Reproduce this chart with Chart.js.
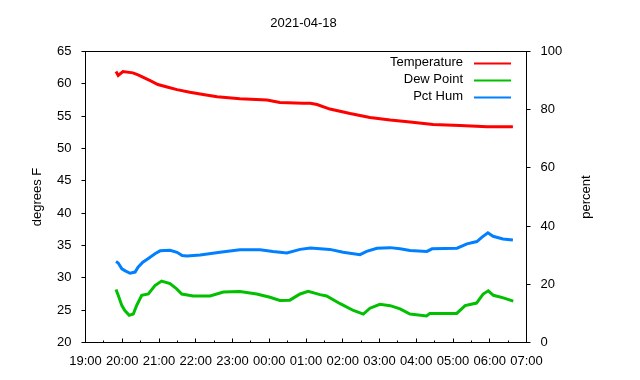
<!DOCTYPE html>
<html><head><meta charset="utf-8">
<script src="https://cdn.jsdelivr.net/npm/chart.js@4/dist/chart.umd.min.js"></script>
<style>html,body{margin:0;padding:0;background:#fff}canvas{display:block}</style>
</head><body>
<canvas id="c" width="640" height="380"></canvas>
<script>
const chartTitle = '2021-04-18';
const leftAxisTitle = 'degrees F';
const rightAxisTitle = 'percent';
const xTickLabels = ['19:00','20:00','21:00','22:00','23:00','00:00','01:00','02:00','03:00','04:00','05:00','06:00','07:00'];

// hours after 19:00
const tempHours  = [0.83,0.89,1.02,1.29,1.43,1.76,1.97,2.22,2.49,2.84,3.20,3.58,4.20,4.94,5.29,5.92,6.12,6.30,6.65,7.20,7.74,8.29,8.83,9.46,10.19,10.93,11.63];
const tempValues = [61.9,61.3,61.9,61.7,61.4,60.5,59.9,59.5,59.1,58.7,58.35,58.0,57.7,57.5,57.1,57.0,57.0,56.8,56.1,55.4,54.8,54.4,54.1,53.7,53.55,53.35,53.35];

const dewHours  = [0.83,0.89,0.99,1.07,1.19,1.30,1.39,1.53,1.71,1.89,2.07,2.30,2.48,2.62,2.93,3.39,3.75,4.20,4.66,5.02,5.29,5.56,5.84,6.06,6.38,6.56,6.93,7.29,7.56,7.74,8.01,8.29,8.56,8.83,9.28,9.37,10.10,10.33,10.64,10.82,10.96,11.10,11.37,11.64];
const dewValues = [28.2,27.3,25.7,24.95,24.2,24.4,25.7,27.3,27.5,28.8,29.5,29.1,28.3,27.5,27.2,27.2,27.8,27.9,27.5,27.0,26.5,26.55,27.5,27.9,27.4,27.2,26.0,24.95,24.4,25.3,25.9,25.7,25.2,24.4,24.1,24.5,24.5,25.7,26.1,27.5,28.0,27.3,26.9,26.4];

const humHours  = [0.83,0.89,0.99,1.07,1.21,1.35,1.43,1.56,1.70,1.89,2.03,2.30,2.49,2.63,2.76,3.12,3.66,4.20,4.75,5.10,5.48,5.84,6.12,6.65,7.01,7.47,7.65,7.93,8.29,8.56,8.83,9.29,9.43,10.11,10.38,10.65,10.79,10.95,11.09,11.36,11.63];
const humValues = [27.8,27.3,25.3,24.7,23.8,24.2,25.9,27.6,28.8,30.5,31.5,31.7,31.0,29.9,29.7,30.1,31.0,31.9,31.9,31.3,30.8,32.0,32.5,32.0,31.0,30.2,31.3,32.4,32.6,32.2,31.6,31.3,32.2,32.4,33.9,34.7,36.2,37.7,36.5,35.6,35.2];

const FONT = "'Liberation Sans', Arial, sans-serif";
const FS = 13;

function pts(xs, ys) { return xs.map((x, i) => ({x: x, y: ys[i]})); }

const decor = {
  id: 'decor',
  afterDraw(chart) {
    const ctx = chart.ctx, a = chart.chartArea, xs = chart.scales.x;
    ctx.save();
    ctx.strokeStyle = '#000'; ctx.lineWidth = 1;
    ctx.strokeRect(a.left, a.top, a.right - a.left, a.bottom - a.top);
    ctx.beginPath();
    for (let v = xs.min; v <= xs.max + 1e-9; v += 0.5) {
      const px = Math.floor(xs.getPixelForValue(v)) + 0.5;
      const len = Math.abs(v - Math.round(v)) < 1e-9 ? 4 : 2;
      ctx.moveTo(px, a.bottom); ctx.lineTo(px, a.bottom - len);
    }
    ctx.stroke();
    ctx.fillStyle = '#000';
    ctx.font = FS + 'px ' + FONT;
    ctx.textAlign = 'center'; ctx.textBaseline = 'middle';
    ctx.fillText(chartTitle, (a.left + a.right) / 2 - 2.5, 23);
    const cy = (a.top + a.bottom) / 2;
    [[leftAxisTitle, 37], [rightAxisTitle, 586]].forEach(([t, x]) => {
      ctx.save(); ctx.translate(x, cy); ctx.rotate(-Math.PI / 2);
      ctx.fillText(t, 0, 0); ctx.restore();
    });
    ctx.textAlign = 'right';
    chart.data.datasets.forEach((ds, i) => {
      const y = 62.5 + i * 17.2;
      ctx.fillStyle = '#000';
      ctx.fillText(ds.label, 463, y);
      ctx.strokeStyle = ds.borderColor; ctx.lineWidth = 2;
      ctx.beginPath(); ctx.moveTo(474, Math.round(y) + 0.5); ctx.lineTo(511, Math.round(y) + 0.5); ctx.stroke();
    });
    ctx.restore();
  }
};

new Chart(document.getElementById('c'), {
  type: 'line',
  data: {
    datasets: [
      {label: 'Temperature', data: pts(tempHours, tempValues), borderColor: '#ff0000', yAxisID: 'y'},
      {label: 'Dew Point', data: pts(dewHours, dewValues), borderColor: '#00c000', yAxisID: 'y'},
      {label: 'Pct Hum', data: pts(humHours, humValues), borderColor: '#0080ff', yAxisID: 'y2'}
    ].map(d => Object.assign(d, {borderWidth: 3, pointRadius: 0, tension: 0, fill: false}))
  },
  options: {
    responsive: false, animation: false, devicePixelRatio: 1,
    layout: {padding: {top: 51.5, left: 0, right: 0, bottom: 0}},
    plugins: {legend: {display: false}, title: {display: false}, tooltip: {enabled: false}},
    scales: {
      x: {
        type: 'linear', min: 0, max: 12,
        grid: {display: false, drawTicks: false}, border: {display: false},
        ticks: {stepSize: 1, autoSkip: false, maxRotation: 0, padding: 11, color: '#000',
                font: {family: FONT, size: FS},
                callback: (v, i) => xTickLabels[i]},
        afterFit: s => { s.height = 37.5; }
      },
      y: {
        position: 'left', min: 20, max: 65,
        grid: {drawOnChartArea: false, drawTicks: true, tickLength: 4, color: '#000'},
        border: {display: false},
        ticks: {stepSize: 5, padding: 10, color: '#000', font: {family: FONT, size: FS}},
        afterFit: s => { s.width = 85.5; }
      },
      y2: {
        position: 'right', min: 0, max: 100,
        grid: {drawOnChartArea: false, drawTicks: true, tickLength: 4, color: '#000'},
        border: {display: false},
        ticks: {stepSize: 20, padding: 10, color: '#000', font: {family: FONT, size: FS}},
        afterFit: s => { s.width = 113.5; }
      }
    }
  },
  plugins: [decor]
});
</script>
</body></html>
